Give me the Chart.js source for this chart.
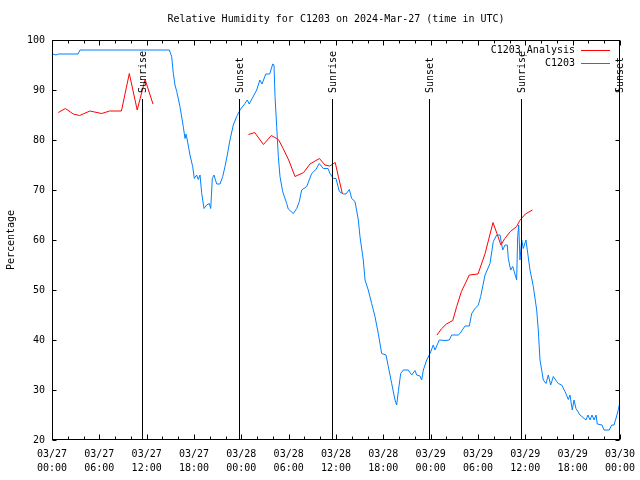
<!DOCTYPE html>
<html>
<head>
<meta charset="utf-8">
<script src="https://cdn.jsdelivr.net/npm/chart.js@4"></script>
<style>
  body { margin: 0; background: #fff; }
</style>
</head>
<body>
<canvas id="myChart" width="640" height="480"></canvas>
<script>
// hours since 2024-03-27 00:00 UTC
const startDays = ['03/27', '03/28', '03/29', '03/30']

const blueHours = [0.1, 0.5, 0.8, 3.3, 3.55, 14.87, 15.17, 15.38, 15.59, 15.81, 16.22, 16.64, 16.86, 16.99, 17.15, 17.49, 17.83, 18.04, 18.34, 18.54, 18.76, 18.98, 19.27, 19.61, 19.94, 20.12, 20.32, 20.53, 20.88, 21.3, 21.64, 21.93, 22.22, 22.56, 22.98, 23.41, 23.83, 24.46, 24.75, 25.0, 25.95, 26.35, 26.62, 27.1, 27.6, 27.98, 28.14, 28.27, 28.48, 28.69, 28.9, 29.24, 29.75, 29.95, 30.59, 31.02, 31.35, 31.65, 32.29, 32.92, 33.46, 33.88, 34.39, 34.99, 35.24, 35.66, 36.0, 36.42, 36.92, 37.27, 37.69, 37.99, 38.41, 38.83, 39.04, 39.46, 39.68, 40.09, 40.52, 40.94, 41.36, 41.79, 42.34, 42.63, 43.06, 43.48, 43.69, 43.9, 44.2, 44.53, 45.16, 45.6, 46.01, 46.23, 46.65, 46.86, 47.07, 47.5, 47.92, 48.33, 48.55, 49.09, 49.82, 50.36, 50.67, 51.5, 51.72, 52.35, 52.9, 53.2, 53.62, 54.04, 54.34, 54.89, 55.52, 55.94, 56.37, 56.79, 57.13, 57.42, 57.71, 57.84, 58.14, 58.4, 58.9, 59.03, 59.16, 59.32, 59.54, 59.74, 60.08, 60.25, 60.59, 61.01, 61.44, 61.64, 61.86, 62.28, 62.62, 62.91, 63.21, 63.55, 63.98, 64.18, 64.61, 65.03, 65.45, 65.66, 65.95, 66.17, 66.42, 66.93, 67.69, 67.94, 68.2, 68.45, 68.71, 68.96, 69.12, 69.72, 69.97, 70.64, 70.95, 71.24, 71.58, 71.79, 71.91]
const blueValues = [97.2, 97.0, 97.2, 97.2, 98, 98, 96.7, 93.3, 91, 89.7, 86.7, 82.7, 80.3, 81.2, 80, 77, 74.7, 72.3, 73, 72.1, 73, 69.3, 66.3, 67, 67.3, 66.3, 72.3, 73, 71.2, 71.2, 72.7, 74.7, 77, 80, 83, 84.7, 86, 87.3, 88, 87.2, 90, 92, 91.2, 93.2, 93.2, 95.2, 95, 88.7, 82.7, 76.7, 72.7, 69.7, 67.3, 66.2, 65.3, 66.3, 67.7, 70, 70.7, 73.3, 74.1, 75.3, 74.3, 74.3, 73.3, 72.3, 72.3, 69.7, 69.2, 69.2, 70.1, 68.3, 67.7, 64, 60.7, 56, 52, 50, 47.3, 44.7, 41.3, 37.3, 37, 34.7, 31.3, 28, 27, 29.7, 33.3, 34, 34, 33, 33.9, 33, 32.8, 32, 34, 36, 37.3, 39, 38, 40, 39.9, 40, 41, 41, 41.3, 42.8, 42.8, 45.3, 46.3, 47, 48.7, 53, 55.3, 59.7, 61, 61, 58, 59, 59, 56.3, 54, 54.7, 52, 60.7, 63, 56, 60, 58.3, 60, 58, 54, 50.7, 46, 42, 36, 32, 31.3, 33, 31, 32.7, 31.7, 31.3, 31, 29.7, 28.1, 29, 26, 28, 26.3, 25, 24, 25, 24, 25, 24, 25, 23.2, 23, 22, 22, 23, 23, 24.8, 26.1, 27]

const redHours = [0.8, 1.7, 2.7, 3.5, 4.8, 6.3, 7.3, 8.8, 9.8, 10.8, 11.8, 12.8, 18, 24.9, 25.7, 26.8, 27.8, 28.7, 29.3, 30, 30.8, 31.9, 32.7, 33.9, 34.6, 35.2, 35.9, 36.3, 36.8, 42, 48.8, 49.4, 50, 50.8, 51.3, 51.9, 52.9, 54, 54.9, 55.9, 56.4, 56.9, 57.4, 58.1, 58.9, 59.3, 60, 60.9]
const redValues = [85.5, 86.3, 85.2, 84.9, 85.8, 85.3, 85.8, 85.8, 93.3, 86, 92.1, 87.2, null, 81.1, 81.5, 79.1, 80.9, 80.1, 78.3, 76, 72.7, 73.5, 75.2, 76.3, 75, 74.8, 75.5, 72.7, 69.3, null, 41, 42.3, 43.2, 43.9, 46.7, 49.7, 53, 53.2, 57.3, 63.5, 61.3, 59, 60.3, 61.7, 62.7, 63.9, 65.2, 66]

const sunHours = [11.45, 23.74, 35.53, 47.83, 59.45, 71.87]
const sunLabels = ['Sunrise', 'Sunset', 'Sunrise', 'Sunset', 'Sunrise', 'Sunset']

const seriesNames = ['C1203_Analysis', 'C1203']
const seriesColors = ['#ff0000', '#0080ff']

const FONT = "'DejaVu Sans Mono', 'Liberation Mono', monospace"
const titleText = 'Relative Humidity for C1203 on 2024-Mar-27 (time in UTC)'

function pts(xs, ys) {
    return xs.map((x, i) => ({x: x, y: ys[i]}))
}

const decor = {
    id: 'decor',
    afterDraw(chart) {
        const ctx = chart.ctx
        const a = chart.chartArea
        const xs = chart.scales.x
        const ys = chart.scales.y
        const L = Math.round(a.left) + 0.5, R = Math.round(a.right) - 0.5
        const T = Math.round(a.top) + 0.5, B = Math.round(a.bottom) - 0.5
        ctx.save()
        ctx.strokeStyle = '#000'
        ctx.lineWidth = 1
        ctx.strokeRect(L, T, R - L, B - T)

        // inward tics
        ctx.beginPath()
        xs.ticks.forEach(t => {
            const px = Math.round(xs.getPixelForValue(t.value)) + 0.5
            const len = t.value % 6 === 0 ? 5 : 3
            ctx.moveTo(px, B); ctx.lineTo(px, B - len)
            ctx.moveTo(px, T); ctx.lineTo(px, T + len)
        })
        ys.ticks.forEach(t => {
            const py = Math.round(ys.getPixelForValue(t.value)) + 0.5
            ctx.moveTo(L, py); ctx.lineTo(L + 4, py)
            ctx.moveTo(R, py); ctx.lineTo(R - 4, py)
        })
        ctx.stroke()

        // sunrise / sunset markers
        ctx.font = '10px ' + FONT
        ctx.fillStyle = '#000'
        sunHours.forEach((h, i) => {
            const px = Math.round(xs.getPixelForValue(h)) + 0.5
            ctx.beginPath()
            ctx.moveTo(px, 99); ctx.lineTo(px, B)
            ctx.stroke()
            ctx.save()
            ctx.translate(px + 1, 93)
            ctx.rotate(-Math.PI / 2)
            ctx.textAlign = 'left'
            ctx.textBaseline = 'middle'
            ctx.fillText(sunLabels[i], 0, 0)
            ctx.restore()
        })

        // key
        ctx.textAlign = 'right'
        ctx.textBaseline = 'middle'
        seriesNames.forEach((name, i) => {
            const y = 50 + i * 13
            ctx.fillStyle = '#000'
            ctx.fillText(name, 575, y)
            ctx.strokeStyle = seriesColors[i]
            ctx.beginPath()
            ctx.moveTo(581, y + 0.5); ctx.lineTo(610, y + 0.5)
            ctx.stroke()
        })

        // title
        ctx.fillStyle = '#000'
        ctx.textAlign = 'center'
        ctx.fillText(titleText, (a.left + a.right) / 2, 19)
        ctx.restore()
    }
}

new Chart(document.getElementById('myChart'), {
    type: 'line',
    data: {
        datasets: [
            {
                label: seriesNames[1],
                data: pts(blueHours, blueValues),
                borderColor: seriesColors[1],
                borderWidth: 1,
                pointRadius: 0,
                tension: 0
            },
            {
                label: seriesNames[0],
                data: pts(redHours, redValues),
                borderColor: seriesColors[0],
                borderWidth: 1,
                pointRadius: 0,
                tension: 0,
                spanGaps: false
            }
        ]
    },
    options: {
        responsive: false,
        animation: false,
        devicePixelRatio: 1,
        layout: { padding: { top: 40, right: 20, left: 0, bottom: 0 } },
        plugins: {
            legend: { display: false },
            tooltip: { enabled: false },
            title: { display: false }
        },
        scales: {
            x: {
                type: 'linear',
                min: 0,
                max: 72,
                afterFit(s) {
                    s.height = 40
                    s.paddingLeft = 0
                    s.paddingRight = 0
                },
                grid: { display: false, drawTicks: false },
                border: { display: false },
                ticks: {
                    stepSize: 2,
                    autoSkip: false,
                    maxRotation: 0,
                    padding: 7,
                    color: '#000',
                    font: { family: FONT, size: 10, lineHeight: 1.4 },
                    callback: (v) => {
                        if (v % 6 !== 0) return ''
                        const d = Math.floor(v / 24)
                        const hh = String(v % 24).padStart(2, '0')
                        return [startDays[d], hh + ':00']
                    }
                }
            },
            y: {
                min: 20,
                max: 100,
                afterFit(s) { s.width = 52 },
                grid: { display: false, drawTicks: false },
                border: { display: false },
                ticks: {
                    stepSize: 10,
                    padding: 7,
                    color: '#000',
                    font: { family: FONT, size: 10 }
                },
                title: {
                    display: true,
                    text: 'Percentage',
                    color: '#000',
                    padding: { top: 5, bottom: 0 },
                    font: { family: FONT, size: 10 }
                }
            }
        }
    },
    plugins: [decor]
})
</script>
</body>
</html>
